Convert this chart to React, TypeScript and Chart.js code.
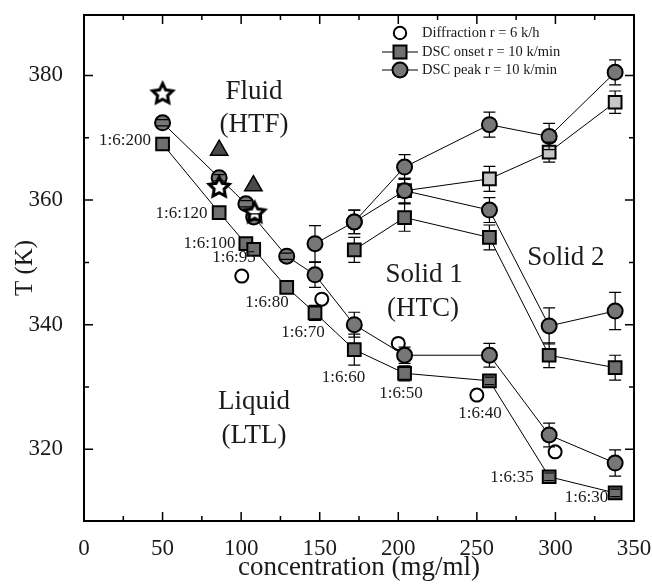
import React, { useEffect, useRef } from 'react';
import { Chart, registerables } from 'chart.js';
Chart.register(...registerables);

const FONT = '"Liberation Serif", "Times New Roman", serif';

// ---------- data ----------
// Diffraction r = 6 K/h (open circles)
const diffConc = [100.4, 151.3, 200, 250, 299.8];
const diffT = [347.8, 344.1, 337.0, 328.7, 319.6];

// DSC onset, lower branch (squares)
const onsetLowConc = [50, 86, 103, 108, 129, 147, 172, 204, 258, 296, 338];
const onsetLowT = [369.0, 358.0, 353.0, 352.1, 346.0, 341.9, 336.0, 332.2, 331.0, 315.6, 313.0];
const onsetLowErr = [0, 0, 0, 0, 0, 1.2, 2.5, 1.2, 0.6, 0.6, 0.6];

// DSC peak, lower branch (circles)
const peakLowConc = [50, 86, 103, 108, 129, 147, 172, 204, 258, 296, 338];
const peakLowT = [372.4, 363.6, 359.4, 357.3, 351.0, 348.0, 340.0, 335.1, 335.1, 322.3, 317.8];
const peakLowErr = [0.5, 0.5, 0.5, 0.5, 0.5, 2.0, 2.0, 1.3, 1.9, 1.9, 2.1];

// DSC peak, middle branch
const peakMidConc = [147, 172, 204, 258, 296, 338];
const peakMidT = [353.0, 356.5, 361.5, 358.4, 339.8, 342.2];
const peakMidErr = [2.9, 1.9, 2.0, 2.0, 2.9, 3.0];

// DSC onset, middle branch
const onsetMidConc = [172, 204, 258, 296, 338];
const onsetMidT = [352.0, 357.2, 354.0, 335.1, 333.1];
const onsetMidErr = [2.0, 2.2, 2.0, 2.0, 2.0];

// DSC peak, upper branch
const peakTopConc = [172, 204, 258, 296, 338];
const peakTopT = [356.5, 365.3, 372.1, 370.2, 380.5];
const peakTopErr = [1.9, 2.0, 2.0, 2.1, 2.0];

// DSC onset, upper branch (light squares)
const onsetTopConc = [204, 258, 296, 338];
const onsetTopT = [361.5, 363.4, 367.7, 375.7];
const onsetTopErr = [2.0, 2.0, 1.6, 1.8];

// other markers
const starConc = [50, 86, 108.6];
const starT = [377.1, 362.1, 358.0];
const triConc = [86, 107.8];
const triT = [368.0, 362.3];

// axis ticks
const xMajorTicks = [0, 50, 100, 150, 200, 250, 300, 350];
const xMinorTicks = [25, 75, 125, 175, 225, 275, 325];
const yMajorTicks = [320, 340, 360, 380];
const yMinorTicks = [330, 350, 370];

// composition labels
const ratioText = ['1:6:200', '1:6:120', '1:6:100', '1:6:95', '1:6:80', '1:6:70', '1:6:60', '1:6:50', '1:6:40', '1:6:35', '1:6:30'];
const ratioConc = [26.1, 62.0, 79.9, 95.5, 116.5, 139.4, 165.1, 201.7, 252.0, 272.4, 319.8];
const ratioT = [369.6, 357.9, 353.1, 350.8, 343.5, 338.8, 331.6, 328.9, 325.8, 315.4, 312.2];

// phase region labels
const regionText = ['Fluid', '(HTF)', 'Solid 2', 'Solid 1', '(HTC)', 'Liquid', '(LTL)'];
const regionConc = [108.2, 108.2, 306.7, 216.4, 215.7, 108.2, 108.2];
const regionT = [377.3, 372.1, 350.7, 348.0, 342.5, 327.6, 322.1];

const legendText = ['Diffraction r = 6 k/h', 'DSC onset r = 10 k/min', 'DSC peak r = 10 k/min'];

const pts = (xs: number[], ys: number[]) => xs.map((x, i) => ({ x, y: ys[i] }));

const SQ_FILL = '#6f6f6f';
const CI_FILL = '#777777';
const LIGHT_FILL = '#c6c6c6';

function makeStar(): HTMLCanvasElement {
  const c = document.createElement('canvas');
  c.width = 28; c.height = 28;
  const g = c.getContext('2d')!;
  const R = 10.5, r = 5.2, cx = 14, cy = 14.5;
  g.beginPath();
  for (let i = 0; i < 10; i++) {
    const a = -Math.PI / 2 + (i * Math.PI) / 5;
    const rr = i % 2 === 0 ? R : r;
    const px = cx + rr * Math.cos(a), py = cy + rr * Math.sin(a);
    if (i === 0) g.moveTo(px, py); else g.lineTo(px, py);
  }
  g.closePath();
  g.fillStyle = '#fff';
  g.fill();
  g.lineWidth = 3;
  g.lineJoin = 'miter';
  g.strokeStyle = '#000';
  g.stroke();
  return c;
}

const customPlugin = {
  id: 'customDraw',
  afterDatasetsDraw(chart: any) {
    const ctx = chart.ctx;
    const ys = chart.scales.y;
    chart.data.datasets.forEach((ds: any, i: number) => {
      const errs = ds.errors;
      if (!errs) return;
      const meta = chart.getDatasetMeta(i);
      const half = ds.markerHalf;
      meta.data.forEach((pt: any, j: number) => {
        const e = errs[j];
        if (!e) return;
        const px = pt.x, py = pt.y;
        const yv = ds.data[j].y;
        const top = ys.getPixelForValue(yv + e);
        const bot = ys.getPixelForValue(yv - e);
        ctx.save();
        ctx.strokeStyle = '#000';
        ctx.lineWidth = 1.2;
        ctx.beginPath();
        if (top < py - half) { ctx.moveTo(px, top); ctx.lineTo(px, py - half); }
        if (bot > py + half) { ctx.moveTo(px, py + half); ctx.lineTo(px, bot); }
        const wTop = top < py - half ? 6 : half * 0.75;
        const wBot = bot > py + half ? 6 : half * 0.75;
        ctx.moveTo(px - wTop, top); ctx.lineTo(px + wTop, top);
        ctx.moveTo(px - wBot, bot); ctx.lineTo(px + wBot, bot);
        ctx.stroke();
        ctx.restore();
      });
    });
  },
  afterDraw(chart: any) {
    const ctx = chart.ctx;
    const { left, right, top, bottom } = chart.chartArea;
    const xs = chart.scales.x, ys = chart.scales.y;
    ctx.save();
    // frame
    ctx.strokeStyle = '#000';
    ctx.lineWidth = 2;
    ctx.strokeRect(left, top, right - left, bottom - top);
    // ticks (inward on all sides)
    ctx.lineWidth = 1.5;
    ctx.beginPath();
    const xt = (v: number, len: number) => {
      const p = xs.getPixelForValue(v);
      ctx.moveTo(p, bottom); ctx.lineTo(p, bottom - len);
      ctx.moveTo(p, top); ctx.lineTo(p, top + len);
    };
    const yt = (v: number, len: number) => {
      const p = ys.getPixelForValue(v);
      ctx.moveTo(left, p); ctx.lineTo(left + len, p);
      ctx.moveTo(right, p); ctx.lineTo(right - len, p);
    };
    xMajorTicks.forEach(v => xt(v, 9));
    xMinorTicks.forEach(v => xt(v, 5));
    yMajorTicks.forEach(v => yt(v, 9));
    yMinorTicks.forEach(v => yt(v, 5));
    ctx.stroke();

    // composition labels
    ctx.fillStyle = '#1a1a1a';
    ctx.textAlign = 'center';
    ctx.textBaseline = 'middle';
    ctx.font = `17px ${FONT}`;
    ratioText.forEach((t, i) => {
      ctx.fillText(t, xs.getPixelForValue(ratioConc[i]), ys.getPixelForValue(ratioT[i]));
    });
    // region labels
    ctx.font = `27px ${FONT}`;
    regionText.forEach((t, i) => {
      ctx.fillText(t, xs.getPixelForValue(regionConc[i]), ys.getPixelForValue(regionT[i]));
    });

    // legend
    const lx = left + 316;
    const ly = [top + 18, top + 37, top + 55];
    ctx.lineWidth = 1;
    ctx.strokeStyle = '#000';
    ctx.beginPath();
    ctx.moveTo(lx - 18, ly[1]); ctx.lineTo(lx + 18, ly[1]);
    ctx.moveTo(lx - 18, ly[2]); ctx.lineTo(lx + 18, ly[2]);
    ctx.stroke();
    ctx.lineWidth = 2;
    ctx.beginPath();
    ctx.arc(lx, ly[0], 6.2, 0, Math.PI * 2);
    ctx.fillStyle = '#fff'; ctx.fill(); ctx.stroke();
    ctx.beginPath();
    ctx.rect(lx - 6.5, ly[1] - 6.5, 13, 13);
    ctx.fillStyle = SQ_FILL; ctx.fill(); ctx.stroke();
    ctx.beginPath();
    ctx.arc(lx, ly[2], 7.5, 0, Math.PI * 2);
    ctx.fillStyle = CI_FILL; ctx.fill(); ctx.stroke();
    ctx.fillStyle = '#1a1a1a';
    ctx.textAlign = 'left';
    ctx.font = `14.5px ${FONT}`;
    legendText.forEach((t, i) => ctx.fillText(t, lx + 22, ly[i]));
    ctx.restore();
  },
};

const lineDs = (label: string, xs: number[], ys: number[], errs: number[] | null, style: string, radius: number, fill: string, half: number, showLine = true) => ({
  label,
  data: pts(xs, ys),
  showLine,
  borderColor: '#000',
  borderWidth: 1,
  pointStyle: style,
  pointRadius: radius,
  pointBackgroundColor: fill,
  pointBorderColor: '#000',
  pointBorderWidth: 2,
  errors: errs,
  markerHalf: half,
});

export default function App() {
  const ref = useRef<HTMLCanvasElement>(null);
  useEffect(() => {
    if (!ref.current) return;
    const star = makeStar();
    const chart = new Chart(ref.current, {
      type: 'scatter',
      data: {
        datasets: [
          { label: 'star', data: pts(starConc, starT), showLine: false, pointStyle: star as any, pointRadius: 11 } as any,
          { label: 'triangle', data: pts(triConc, triT), showLine: false, pointStyle: 'triangle', pointRadius: 10, pointBackgroundColor: '#4a4a4a', pointBorderColor: '#000', pointBorderWidth: 1.5 } as any,
          lineDs('onsetLow', onsetLowConc, onsetLowT, onsetLowErr, 'rect', 9, SQ_FILL, 6.4),
          lineDs('peakLow', peakLowConc, peakLowT, peakLowErr, 'circle', 7.5, CI_FILL, 7.5),
          lineDs('peakMid', peakMidConc, peakMidT, peakMidErr, 'circle', 7.5, CI_FILL, 7.5),
          lineDs('onsetMid', onsetMidConc, onsetMidT, onsetMidErr, 'rect', 9, SQ_FILL, 6.4),
          lineDs('peakTop', peakTopConc, peakTopT, peakTopErr, 'circle', 7.5, CI_FILL, 7.5),
          lineDs('onsetTop', onsetTopConc, onsetTopT, onsetTopErr, 'rect', 9, LIGHT_FILL, 6.4),
          lineDs('diffraction', diffConc, diffT, null, 'circle', 6.5, '#fff', 6.5, false),
        ],
      },
      options: {
        responsive: false,
        animation: false,
        events: [],
        layout: { padding: { top: 15, right: 18, bottom: 0, left: 0 } },
        plugins: { legend: { display: false }, tooltip: { enabled: false } },
        scales: {
          x: {
            type: 'linear',
            min: 0,
            max: 350,
            afterFit: (s: any) => { s.height = 63; s.paddingLeft = 0; s.paddingRight = 0; },
            afterBuildTicks: (s: any) => { s.ticks = xMajorTicks.map(v => ({ value: v })); },
            grid: { display: false, drawTicks: false },
            border: { display: false },
            ticks: { color: '#1a1a1a', padding: 14, font: { family: FONT, size: 23 } },
            title: { display: true, text: 'concentration (mg/ml)', color: '#1a1a1a', padding: { top: 0, bottom: 0 }, font: { family: FONT, size: 27 } },
          },
          y: {
            type: 'linear',
            min: 308.5,
            max: 389.7,
            afterFit: (s: any) => { s.width = 84; s.paddingTop = 0; s.paddingBottom = 0; },
            afterBuildTicks: (s: any) => { s.ticks = yMajorTicks.map(v => ({ value: v })); },
            grid: { display: false, drawTicks: false },
            border: { display: false },
            ticks: { color: '#1a1a1a', padding: 21, font: { family: FONT, size: 23 } },
            title: { display: true, text: 'T (K)', color: '#1a1a1a', padding: { top: 10, bottom: 0 }, font: { family: FONT, size: 25 } },
          },
        },
      } as any,
      plugins: [customPlugin],
    });
    return () => chart.destroy();
  }, []);
  return (
    <div style={{ position: 'absolute', left: 0, top: 0, width: 652, height: 584, background: '#fff' }}>
      <canvas ref={ref} width={652} height={584} style={{ display: 'block' }} />
    </div>
  );
}
